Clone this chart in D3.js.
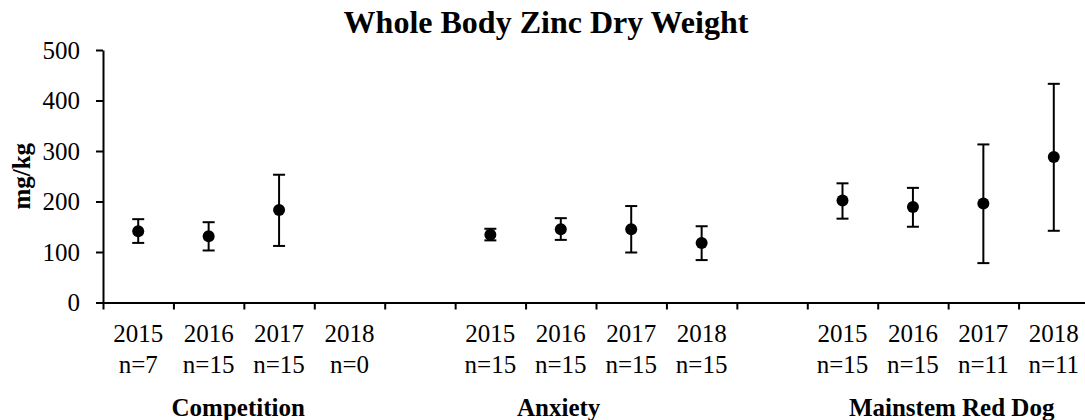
<!DOCTYPE html>
<html lang="en">
<head>
  <meta charset="UTF-8">
  <title>Whole Body Zinc Dry Weight</title>
  <script src="https://d3js.org/d3.v7.min.js"></script>
  <style>
    body { margin: 0; background: #fff; }
    svg { display: block; }
    svg text { font-family: 'Liberation Serif', 'Times New Roman', serif; }
    .axis path, .axis line { stroke: #000; stroke-width: 2px; }
    .tick-label { font-size: 25px; fill: #000; }
    .group-label { font-size: 25px; font-weight: bold; fill: #000; }
  </style>
</head>
<body>
  <svg width="1085" height="420"></svg>
  <script>
    // data
    const groups = ["Competition", "Anxiety", "Mainstem Red Dog"];
    const years = ["2015", "2016", "2017", "2018"];
    const nCounts = [[7, 15, 15, 0], [15, 15, 15, 15], [15, 15, 11, 11]];
    const means = [[141, 131, 183, null], [134, 145, 145, 118], [202, 189, 196, 288]];
    const upper = [[165, 159, 253, null], [146, 167, 191, 151], [236, 227, 313, 433]];
    const lower = [[118, 103, 112, null], [123, 124, 99, 84], [166, 150, 78, 142]];
    const yTicks = [0, 100, 200, 300, 400, 500];

    const slotsPerGroup = years.length + 1;          // one empty slot between groups
    const nSlots = groups.length * slotsPerGroup - 1;

    const svg = d3.select("svg");

    const x = d3.scaleLinear().domain([0, nSlots]).range([103, 1089]);
    const y = d3.scaleLinear().domain([0, 500]).range([302.5, 50]);

    // flatten into points
    const points = [];
    groups.forEach((g, gi) => {
      years.forEach((yr, i) => {
        points.push({
          slot: gi * slotsPerGroup + i,
          year: yr, n: nCounts[gi][i],
          mean: means[gi][i], hi: upper[gi][i], lo: lower[gi][i]
        });
      });
    });

    // y axis, labels drawn as plain text so they use the serif face
    svg.append("g")
      .attr("class", "axis")
      .attr("transform", `translate(${x(0)},0)`)
      .call(d3.axisLeft(y).tickValues(yTicks).tickFormat("").tickSize(7).tickSizeOuter(0));
    svg.append("g").selectAll("text")
      .data(yTicks)
      .join("text")
      .attr("class", "tick-label")
      .attr("text-anchor", "end")
      .attr("x", x(0) - 23)
      .attr("y", d => y(d))
      .attr("dy", "0.34em")
      .text(d => d);

    // x axis (ticks at slot borders, labels drawn separately)
    svg.append("g")
      .attr("class", "axis")
      .attr("transform", `translate(0,${y(0)})`)
      .call(d3.axisBottom(x).tickValues(d3.range(0, nSlots + 1)).tickFormat("").tickSize(7).tickSizeOuter(0));

    // year + n labels
    const lab = svg.append("g").selectAll("text")
      .data(points)
      .join("text")
      .attr("class", "tick-label")
      .attr("text-anchor", "middle");
    lab.append("tspan").attr("x", d => x(d.slot + 0.5)).attr("y", 342).text(d => d.year);
    lab.append("tspan").attr("x", d => x(d.slot + 0.5)).attr("y", 373).text(d => "n=" + d.n);

    // group labels
    const groupAt = [1.92, 6.47, 12.05];
    svg.append("g").selectAll("text")
      .data(groups)
      .join("text")
      .attr("class", "group-label")
      .attr("text-anchor", "middle")
      .attr("x", (d, i) => x(groupAt[i]))
      .attr("y", 416)
      .text(d => d);

    // error bars and means
    const valid = points.filter(d => d.mean != null);
    const eb = svg.append("g").attr("stroke", "#000").attr("stroke-width", 2);
    eb.selectAll("line.stem").data(valid).join("line")
      .attr("class", "stem")
      .attr("x1", d => x(d.slot + 0.5)).attr("x2", d => x(d.slot + 0.5))
      .attr("y1", d => y(d.lo)).attr("y2", d => y(d.hi));
    eb.selectAll("line.cap-hi").data(valid).join("line")
      .attr("class", "cap-hi")
      .attr("x1", d => x(d.slot + 0.5) - 6).attr("x2", d => x(d.slot + 0.5) + 6)
      .attr("y1", d => y(d.hi)).attr("y2", d => y(d.hi));
    eb.selectAll("line.cap-lo").data(valid).join("line")
      .attr("class", "cap-lo")
      .attr("x1", d => x(d.slot + 0.5) - 6).attr("x2", d => x(d.slot + 0.5) + 6)
      .attr("y1", d => y(d.lo)).attr("y2", d => y(d.lo));

    svg.append("g").selectAll("circle")
      .data(valid)
      .join("circle")
      .attr("cx", d => x(d.slot + 0.5))
      .attr("cy", d => y(d.mean))
      .attr("r", 6)
      .attr("fill", "#000");

    // title
    svg.append("text")
      .attr("x", 546)
      .attr("y", 33)
      .attr("text-anchor", "middle")
      .style("font-size", "32px")
      .style("font-weight", "bold")
      .text("Whole Body Zinc Dry Weight");

    // y axis title
    svg.append("text")
      .attr("transform", `translate(30,${(y(0) + y(500)) / 2}) rotate(-90)`)
      .attr("text-anchor", "middle")
      .style("font-size", "25px")
      .style("font-weight", "bold")
      .text("mg/kg");
  </script>
</body>
</html>
